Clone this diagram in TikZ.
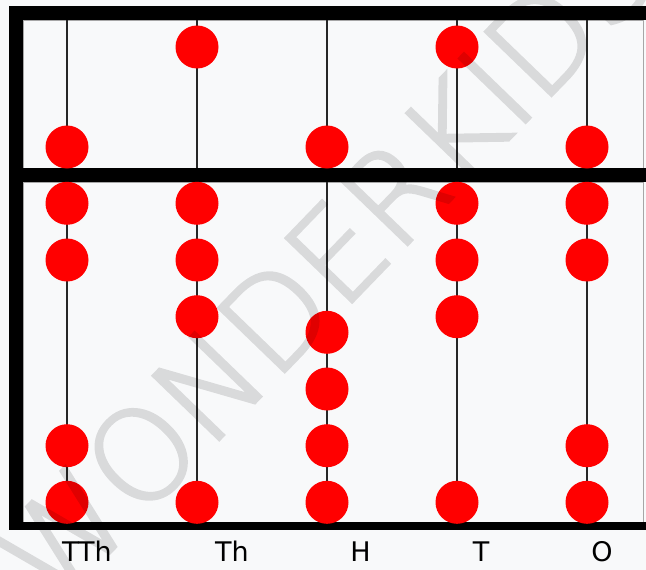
\documentclass[tikz,border=0pt]{standalone}
\usepackage{fontspec}
\setmainfont{DejaVu Sans}
\newfontfamily\wmfont{DejaVu Sans ExtraLight}[FakeBold=2.5]
\definecolor{bg}{HTML}{F8F9FA}
\definecolor{beadred}{HTML}{FF0000}
\begin{document}
\begin{tikzpicture}[x=1pt,y=-1pt,
  bead/.style={circle,fill=beadred,inner sep=0pt,minimum size=43pt},
  rod/.style={line width=2pt,draw=black!85},
  bar/.style={fill=black},
  panel/.style={fill=bg,draw=black!35,line width=1pt},
  lbl/.style={font=\fontsize{27}{30}\selectfont,inner sep=0pt,text=black},
  wm/.style={font=\wmfont\fontsize{126}{132}\selectfont,text=black,rotate=46,inner sep=0pt}]
\fill[bg] (0,0) rectangle (646,570);
\useasboundingbox (0,0) rectangle (646,570);
% panels
\draw[panel] (23,20) rectangle (643,168);
\draw[panel] (23,182) rectangle (643,522);
% rods
\foreach \n/\x in {TTh/67,Th/197,H/327,T/457,O/587}{
  \coordinate (\n-top) at (\x,20);
  \coordinate (\n-mida) at (\x,168);
  \coordinate (\n-midb) at (\x,182);
  \coordinate (\n-bot) at (\x,522);
  \draw[rod] (\n-top) -- (\n-mida);
  \draw[rod] (\n-midb) -- (\n-bot);
}
% frame bars
\fill[bar] (9,6) rectangle (646,20);
\fill[bar] (9,168) rectangle (646,182);
\fill[bar] (9,522) rectangle (646,530);
\fill[bar] (9,6) rectangle (23,530);
% heaven beads
\node[bead] (TTh-h) at (67,147) {};
\node[bead] (Th-h) at (197,47) {};
\node[bead] (H-h) at (327,147) {};
\node[bead] (T-h) at (457,47) {};
\node[bead] (O-h) at (587,147) {};
% earth beads
\foreach \y [count=\i] in {203.3,260,445.7,502.3} \node[bead] (TTh-e\i) at (67,\y) {};
\foreach \y [count=\i] in {203.3,260,316.7,502.3} \node[bead] (Th-e\i) at (197,\y) {};
\foreach \y [count=\i] in {332.3,389,445.7,502.3} \node[bead] (H-e\i) at (327,\y) {};
\foreach \y [count=\i] in {203.3,260,316.7,502.3} \node[bead] (T-e\i) at (457,\y) {};
\foreach \y [count=\i] in {203.3,260,445.7,502.3} \node[bead] (O-e\i) at (587,\y) {};
% labels
\node[lbl] (lTTh) at (87,551.5) {TTh};
\node[lbl] (lTh) at (232,551.5) {Th};
\node[lbl] (lH) at (360.5,551.5) {H};
\node[lbl] (lT) at (481,551.5) {T};
\node[lbl] (lO) at (602,551.5) {O};
% watermark
\begin{scope}[transparency group,opacity=0.12]
\node[wm] (wm) at (325.5,263.5) {WONDERKIDS};
\end{scope}
\end{tikzpicture}
\end{document}
